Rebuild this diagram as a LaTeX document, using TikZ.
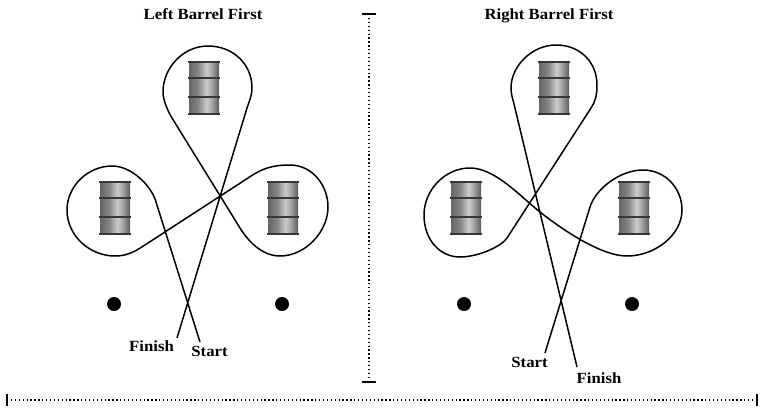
\documentclass[tikz,border=0pt]{standalone}
\usepackage{fontspec}
\setmainfont{Liberation Serif}
\definecolor{bA}{gray}{0.40}
\definecolor{bB}{gray}{0.52}
\definecolor{bC}{gray}{0.80}
\definecolor{bD}{gray}{0.66}
\definecolor{bE}{gray}{0.36}
\definecolor{rimc}{gray}{0.22}
\pgfdeclarehorizontalshading{barrelshade}{100bp}{color(0bp)=(bA); color(25bp)=(bA); color(40bp)=(bB); color(54bp)=(bC); color(62bp)=(bD); color(75bp)=(bE); color(100bp)=(bE)}
\tikzset{
  route/.style={line width=1.5bp, black, line join=round},
  rim/.style={line width=2bp, rimc},
  lab/.style={font=\fontsize{15.5bp}{18bp}\selectfont\bfseries, inner sep=0pt, xscale=1.08, anchor=base},
  dotline/.style={line width=1.3bp, black, dash pattern=on 1.3bp off 2.6bp},
  tickmark/.style={line width=1.5bp, black},
  cone/.style={fill=black},
  barrel/.pic={
    \shade[shading=barrelshade] (1,0) rectangle (31,52);
    \draw[rim] (0,0) -- (32,0) (0,16) -- (32,16) (0,35) -- (32,35) (0,52) -- (32,52);
  }
}
\begin{document}
\begin{tikzpicture}[x=1bp,y=-1bp]
\useasboundingbox (0,0) rectangle (763,412);
\fill[white] (0,0) rectangle (763,412);

% titles
\node[lab] (tl) at (203,19) {Left Barrel First};
\node[lab] (tr) at (549,19) {Right Barrel First};

% separators
\coordinate (vt) at (369,14);
\coordinate (vb) at (369,382);
\draw[dotline] (vt) -- (vb);
\draw[tickmark] (362,14) -- (376,14) (362,382) -- (376,382);
\coordinate (hl) at (7,400);
\coordinate (hr) at (757,400);
\draw[dotline] (hl) -- (hr);
\draw[tickmark] (7,394) -- (7,406) (757,394) -- (757,406);

% barrels
\pic (lbt) at (188,62) {barrel};
\pic (lbl) at (99,182) {barrel};
\pic (lbr) at (267,182) {barrel};
\pic (rbt) at (538,62) {barrel};
\pic (rbl) at (450,182) {barrel};
\pic (rbr) at (618,182) {barrel};

% cones
\fill[cone] (114,304) circle (7);
\fill[cone] (282,304) circle (7);
\fill[cone] (464,304) circle (7);
\fill[cone] (632,304) circle (7);

% left pattern
\coordinate (LS) at (200,342);
\coordinate (LF) at (177,338);
\draw[route] (LS) -- (155.4,200) .. controls (150.5,185.7) and (132,166) .. (112,166)
 .. controls (88,166) and (67,186) .. (67,210)
 .. controls (67,236) and (90,256) .. (115,256)
 .. controls (128,256) and (136,251) .. (148,243)
 -- (248,178)
 .. controls (262,168.5) and (272,165) .. (290,165)
 .. controls (312,165) and (328,185) .. (328,207)
 .. controls (328,232) and (305,256) .. (280,256)
 .. controls (262,256) and (248,241) .. (240,228)
 -- (172,118)
 .. controls (167.8,111.2) and (163,100) .. (163,92)
 .. controls (163,68) and (183,46) .. (208,46)
 .. controls (233,46) and (252,64) .. (252,88)
 .. controls (252,96) and (248.8,102.3) .. (247,108)
 -- (LF);
\node[lab] (lfin) at (151.5,351) {Finish};
\node[lab] (lsta) at (209.5,356) {Start};

% right pattern
\coordinate (RS) at (545,353);
\coordinate (RF) at (577,367);
\draw[route] (RS) -- (590,207)
 .. controls (595,190) and (619,170) .. (643,170)
 .. controls (665,170) and (682,188) .. (682,210)
 .. controls (682,235) and (655,256) .. (627,256)
 .. controls (600,256) and (559.6,227.5) .. (540,212)
 .. controls (520.4,196.5) and (495,168) .. (470,168)
 .. controls (445,168) and (424,190) .. (424,215)
 .. controls (424,240) and (440,257) .. (460,257)
 .. controls (478,257) and (501.6,246.4) .. (507,238)
 -- (591,108)
 .. controls (595.4,101.3) and (597,95) .. (597,85)
 .. controls (597,62) and (580,45) .. (556,45)
 .. controls (532,45) and (511,66) .. (511,88)
 .. controls (511,95) and (512.9,99.1) .. (514,104)
 -- (RF);
\node[lab] (rsta) at (529.5,367) {Start};
\node[lab] (rfin) at (599,383) {Finish};
\end{tikzpicture}
\end{document}
